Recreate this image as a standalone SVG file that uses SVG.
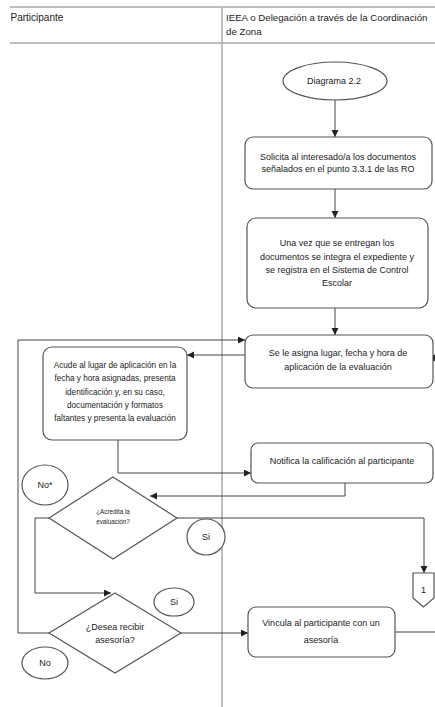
<svg xmlns="http://www.w3.org/2000/svg" width="435" height="707" viewBox="0 0 435 707">
<style>
  text { font-family: "Liberation Sans", Arial, sans-serif; fill: #222; }
  .hdr { font-size: 10px; }
  .hdr2 { font-size: 9.7px; }
  .t9 { font-size: 9px; text-anchor: middle; }
  .t8 { font-size: 8.2px; text-anchor: middle; }
  .t6 { font-size: 6.3px; text-anchor: middle; }
  .lane { stroke: #a8a8a8; stroke-width: 1.5; fill: none; }
  .box { fill: #fff; stroke: #555; stroke-width: 1.2; }
  .conn { stroke: #444; stroke-width: 1; fill: none; }
  .conn-a { stroke: #444; stroke-width: 1; fill: none; marker-end: url(#arr); }
</style>
<defs>
  <marker id="arr" markerUnits="userSpaceOnUse" markerWidth="8" markerHeight="8" refX="7" refY="3.5" orient="auto">
    <path d="M0,0 L7,3.5 L0,7 z" fill="#222"/>
  </marker>
</defs>
<rect width="435" height="707" fill="#fff"/>

<g id="lanes">
  <path class="lane" d="M10,7 H435"/>
  <path class="lane" d="M10,43 H435"/>
  <path class="lane" d="M222,7 V707"/>
  <text class="hdr" x="10.5" y="21">Participante</text>
  <text class="hdr2" x="226" y="21">IEEA o Delegación a través de la Coordinación</text>
  <text class="hdr2" x="226" y="35">de Zona</text>
</g>

<g id="connectors">
  <path class="conn-a" d="M335,100 V137"/>
  <path class="conn-a" d="M335,189 V218"/>
  <path class="conn-a" d="M335,308 V335"/>
  <path class="conn-a" d="M245,355 H187"/>
  <path class="conn-a" d="M118,440 V473 H251"/>
  <path class="conn-a" d="M345,483 V496 H150"/>
  <path class="conn-a" d="M177,518 H424 V573"/>
  <path class="conn-a" d="M49,518 H35 V593 H111"/>
  <path class="conn-a" d="M49,633 H18 V340 H245"/>
  <path class="conn-a" d="M181,633 H248"/>
  <path class="conn" d="M395,632 H435"/>
  <polygon points="428,358 435,354.5 435,361.5" fill="#222"/>
</g>

<g id="start">
  <ellipse class="box" cx="335" cy="81" rx="52" ry="19"/>
  <text class="t9" x="334" y="84">Diagrama 2.2</text>
</g>

<g id="solicita">
  <rect class="box" x="245" y="137" width="187" height="52" rx="8"/>
  <text class="t9" x="338" y="160">Solicita al interesado/a los documentos</text>
  <text class="t9" x="338" y="172">señalados en el punto 3.3.1 de las RO</text>
</g>

<g id="integra">
  <rect class="box" x="247" y="218" width="181" height="90" rx="9"/>
  <text class="t9" x="337" y="246">Una vez que se entregan los</text>
  <text class="t9" x="337" y="260">documentos se integra el expediente y</text>
  <text class="t9" x="337" y="273">se registra en el Sistema de Control</text>
  <text class="t9" x="337" y="286">Escolar</text>
</g>

<g id="asigna">
  <rect class="box" x="245" y="335" width="188" height="53" rx="8"/>
  <text class="t9" x="338" y="356">Se le asigna lugar, fecha y hora de</text>
  <text class="t9" x="338" y="370">aplicación de la evaluación</text>
</g>

<g id="acude">
  <rect class="box" x="43" y="347" width="144" height="93" rx="9"/>
  <text class="t8" x="115" y="368">Acude al lugar de aplicación en la</text>
  <text class="t8" x="115" y="381">fecha y hora asignadas, presenta</text>
  <text class="t8" x="115" y="395">identificación y, en su caso,</text>
  <text class="t8" x="115" y="408">documentación y formatos</text>
  <text class="t8" x="115" y="421">faltantes y presenta la evaluación</text>
</g>

<g id="notifica">
  <rect class="box" x="251" y="443" width="182" height="40" rx="7"/>
  <text class="t9" x="342" y="464">Notifica la calificación al participante</text>
</g>

<g id="acredita">
  <polygon class="box" points="113,477 177,518 113,559 49,518"/>
  <text class="t6" x="113" y="514">¿Acredita la</text>
  <text class="t6" x="113" y="524">evaluación?</text>
</g>

<g id="no-star">
  <ellipse class="box" cx="45" cy="485" rx="23" ry="20"/>
  <text class="t9" x="45" y="488">No*</text>
</g>

<g id="si-1">
  <ellipse class="box" cx="206" cy="537" rx="19" ry="18"/>
  <text class="t9" x="206" y="540">Si</text>
</g>

<g id="conector-1">
  <polygon class="box" points="413,573 434,573 434,598 423.5,607 413,598"/>
  <text class="t9" x="423.5" y="593">1</text>
</g>

<g id="desea">
  <polygon class="box" points="115,593 181,633 115,673 49,633"/>
  <text class="t9" x="115" y="630">¿Desea recibir</text>
  <text class="t9" x="115" y="643">asesoría?</text>
</g>

<g id="si-2">
  <ellipse class="box" cx="174" cy="602" rx="20" ry="14"/>
  <text class="t9" x="174" y="605">Si</text>
</g>

<g id="no">
  <ellipse class="box" cx="45" cy="663" rx="23" ry="16"/>
  <text class="t9" x="45" y="666">No</text>
</g>

<g id="vincula">
  <rect class="box" x="248" y="607" width="147" height="50" rx="8"/>
  <text class="t9" x="321" y="626">Vincula al participante con un</text>
  <text class="t9" x="321" y="643">asesoría</text>
</g>
</svg>
